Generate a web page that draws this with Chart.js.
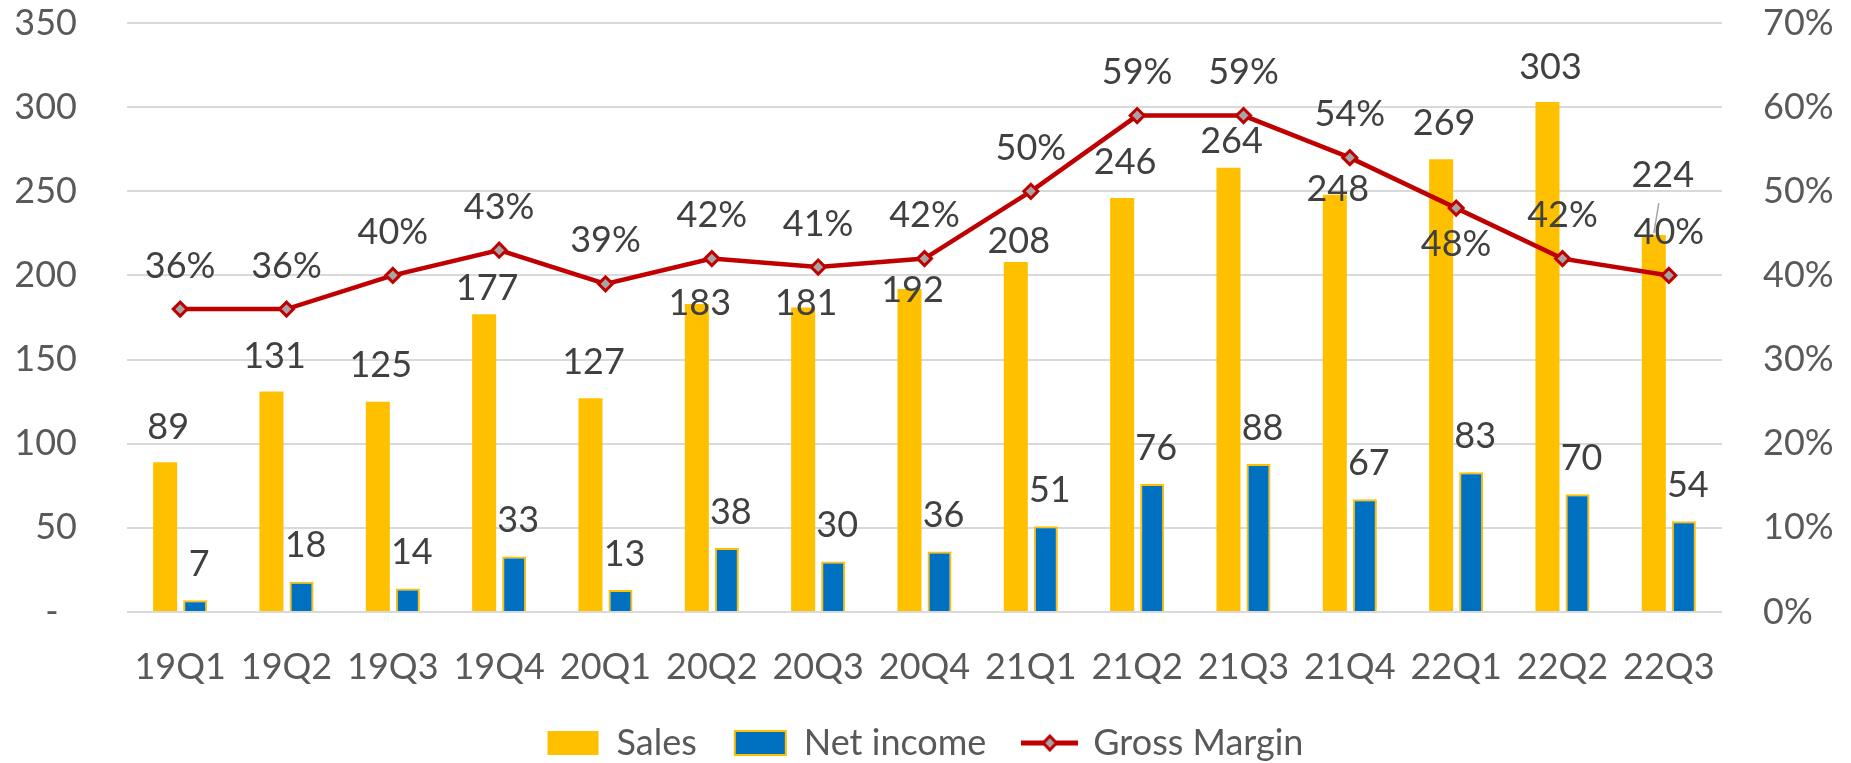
<!DOCTYPE html>
<html>
<head>
<meta charset="utf-8">
<script src="https://cdn.jsdelivr.net/npm/chart.js@4.4.1/dist/chart.umd.min.js"></script>
<style>
  html, body { margin: 0; padding: 0; background: #fff; }
</style>
</head>
<body>
<canvas id="chart" width="1851" height="763"></canvas>
<script>
// chart data
const quarters = ["19Q1", "19Q2", "19Q3", "19Q4", "20Q1", "20Q2", "20Q3", "20Q4",
                  "21Q1", "21Q2", "21Q3", "21Q4", "22Q1", "22Q2", "22Q3"];
const sales = [89, 131, 125, 177, 127, 183, 181, 192, 208, 246, 264, 248, 269, 303, 224];
const netIncome = [7, 18, 14, 33, 13, 38, 30, 36, 51, 76, 88, 67, 83, 70, 54];
const grossMargin = [0.36, 0.36, 0.40, 0.43, 0.39, 0.42, 0.41, 0.42, 0.50, 0.59, 0.59, 0.54, 0.48, 0.42, 0.40];

// label placement (px from bar top / point), mimics the manual layout of the original
const salesLabelDy = [-35, -35, -36, -26, -36, -1, -4, 1, -21, -36, -26, -5, -36, -35, -60];
const salesLabelDx = [3, 3, 3, 3, 3, 3, 3, 3, 3, 3, 3, 3, 3, 3, 9];
const marginLabelDy = [-43, -43, -43, -43, -43, -43, -43, -43, -43, -43, -43, -43, 36, -43, -43];

const FONT = "Lato";
const tickColor = "#595959";
const labelColor = "#404040";

// little line + diamond icon for the legend
function marginIcon() {
    const c = document.createElement("canvas");
    c.width = 57; c.height = 18;
    const g = c.getContext("2d");
    g.strokeStyle = "#C00000";
    g.lineWidth = 5;
    g.beginPath(); g.moveTo(0, 9); g.lineTo(57, 9); g.stroke();
    g.beginPath();
    g.moveTo(28.5, 2); g.lineTo(35, 9); g.lineTo(28.5, 16); g.lineTo(22, 9); g.closePath();
    g.fillStyle = "#A5A5A5";
    g.fill();
    g.lineWidth = 3;
    g.stroke();
    return c;
}

const valueLabels = {
    id: "valueLabels",
    afterDatasetsDraw(chart) {
        const ctx = chart.ctx;
        ctx.save();
        ctx.font = "36px " + FONT;
        ctx.fillStyle = labelColor;
        ctx.textAlign = "center";
        ctx.textBaseline = "middle";

        chart.getDatasetMeta(0).data.forEach((bar, i) => {
            ctx.fillText(sales[i], bar.x + salesLabelDx[i], bar.y + salesLabelDy[i]);
        });
        chart.getDatasetMeta(1).data.forEach((bar, i) => {
            ctx.fillText(netIncome[i], bar.x + 4, bar.y - 36);
        });
        chart.getDatasetMeta(2).data.forEach((pt, i) => {
            ctx.fillText(Math.round(grossMargin[i] * 100) + "%", pt.x, pt.y + marginLabelDy[i]);
        });

        // leader line for the moved 22Q3 sales label
        const last = chart.getDatasetMeta(0).data[sales.length - 1];
        ctx.strokeStyle = "#A6A6A6";
        ctx.lineWidth = 1.5;
        ctx.beginPath();
        ctx.moveTo(last.x + 5, last.y - 32);
        ctx.lineTo(last.x, last.y - 2);
        ctx.stroke();
        ctx.restore();
    }
};

new Chart(document.getElementById("chart"), {
    type: "bar",
    data: {
        labels: quarters,
        datasets: [
            {
                label: "Sales",
                data: sales,
                backgroundColor: "#FFC000",
                yAxisID: "y",
                order: 2,
                categoryPercentage: 0.565,
                barPercentage: 0.8
            },
            {
                label: "Net income",
                data: netIncome,
                backgroundColor: "#0070C0",
                borderColor: "#FFC000",
                borderWidth: 2,
                yAxisID: "y",
                order: 2,
                categoryPercentage: 0.565,
                barPercentage: 0.8
            },
            {
                type: "line",
                label: "Gross Margin",
                data: grossMargin,
                yAxisID: "y1",
                order: 1,
                borderColor: "#C00000",
                borderWidth: 4.5,
                tension: 0,
                pointStyle: "rectRot",
                pointRadius: 7,
                pointBorderWidth: 3,
                pointBorderColor: "#C00000",
                pointBackgroundColor: "#A5A5A5"
            }
        ]
    },
    options: {
        responsive: false,
        animation: false,
        layout: { padding: { top: 0, left: 0, right: 0, bottom: -8 } },
        plugins: {
            tooltip: { enabled: false },
            legend: {
                position: "bottom",
                labels: {
                    font: { family: FONT, size: 36 },
                    color: tickColor,
                    usePointStyle: true,
                    pointStyleWidth: 51,
                    boxHeight: 24,
                    padding: 38,
                    generateLabels: chart => chart.data.datasets.map((ds, i) => ({
                        text: ds.label,
                        fillStyle: ds.backgroundColor,
                        strokeStyle: ds.borderColor || ds.backgroundColor,
                        lineWidth: i === 1 ? 2 : 0,
                        pointStyle: i === 2 ? marginIcon() : "rect",
                        fontColor: tickColor,
                        hidden: false,
                        datasetIndex: i
                    }))
                }
            }
        },
        scales: {
            x: {
                grid: { display: false },
                border: { display: false },
                ticks: { font: { family: FONT, size: 36 }, color: tickColor, padding: 26, maxRotation: 0 },
                afterFit: s => { s.height = 75; }
            },
            y: {
                position: "left",
                min: 0,
                max: 350,
                ticks: {
                    stepSize: 50,
                    padding: 50,
                    font: { family: FONT, size: 36 },
                    color: tickColor,
                    callback: v => v === 0 ? "-  " : v
                },
                grid: { color: "#D9D9D9", lineWidth: 2, drawTicks: false },
                border: { display: false },
                afterFit: s => { s.width = 127; s.paddingTop = 23; s.paddingBottom = 0; }
            },
            y1: {
                position: "right",
                min: 0,
                max: 0.7,
                ticks: {
                    stepSize: 0.1,
                    padding: 41,
                    font: { family: FONT, size: 36 },
                    color: tickColor,
                    callback: v => Math.round(v * 100) + "%"
                },
                grid: { drawOnChartArea: false, drawTicks: false },
                border: { display: false },
                afterFit: s => { s.width = 129; s.paddingTop = 23; s.paddingBottom = 0; }
            }
        }
    },
    plugins: [valueLabels]
});
</script>
</body>
</html>
